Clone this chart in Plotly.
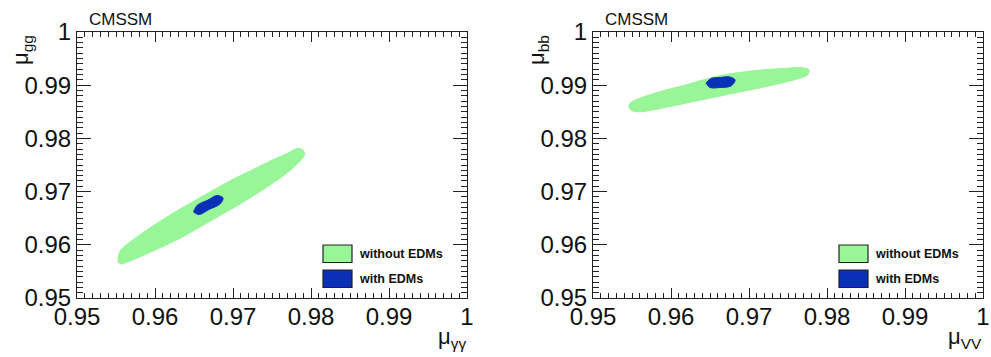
import plotly.graph_objects as go

W, H = 991, 357

# ---- data (contour outlines) ----
tick_vals = [0.95, 0.96, 0.97, 0.98, 0.99, 1.0]
tick_text = ["0.95", "0.96", "0.97", "0.98", "0.99", "1"]

left_green_x = [0.9553, 0.9556, 0.9565, 0.958, 0.960, 0.9625, 0.965, 0.9675, 0.970, 0.9725, 0.975, 0.977, 0.9782, 0.9789, 0.9792, 0.9787,
                0.977, 0.975, 0.9725, 0.970, 0.9675, 0.965, 0.9625, 0.960, 0.958, 0.9565, 0.9557, 0.9553]
left_green_y = [0.9578, 0.9590, 0.9602, 0.9618, 0.9638, 0.9661, 0.9682, 0.9703, 0.9723, 0.9741, 0.9759, 0.9772, 0.9781, 0.9779, 0.9770, 0.9759,
                0.9736, 0.9715, 0.9691, 0.9669, 0.9648, 0.9627, 0.9607, 0.9590, 0.9577, 0.9568, 0.9564, 0.9567]

left_blue_x = [0.96494, 0.96539, 0.96680, 0.96795, 0.96872, 0.96833, 0.96692, 0.96564, 0.96494]
left_blue_y = [0.96617, 0.96739, 0.96842, 0.96927, 0.96880, 0.96767, 0.96664, 0.96570, 0.96617]

right_green_x = [0.9546, 0.9550, 0.9577, 0.9620, 0.9663, 0.9705, 0.9748, 0.9768, 0.9777, 0.9775,
                 0.9765, 0.9727, 0.9684, 0.9641, 0.9599, 0.9560, 0.9549]
right_green_y = [0.9862, 0.9869, 0.9884, 0.9901, 0.9918, 0.9927, 0.9932, 0.9933, 0.9929, 0.9919,
                 0.9913, 0.9899, 0.9886, 0.9873, 0.9860, 0.9850, 0.9853]

right_blue_x = [0.96449, 0.96513, 0.96628, 0.96756, 0.96821, 0.96769, 0.96628, 0.96500, 0.96449]
right_blue_y = [0.99041, 0.99126, 0.99145, 0.99154, 0.99098, 0.98985, 0.98957, 0.98957, 0.99041]

legend_labels = ["without EDMs", "with EDMs"]
x_titles = ["μ<sub>γγ</sub>", "μ<sub>VV</sub>"]
y_titles = ["μ<sub>gg</sub>", "μ<sub>bb</sub>"]

GREEN = "#98f598"
BLUE = "#0a30b8"
FONT = "Liberation Sans, Arial, sans-serif"


def close(a):
    return list(a) + [a[0]]


fig = go.Figure()

panels = [
    (left_green_x, left_green_y, left_blue_x, left_blue_y, "x", "y"),
    (right_green_x, right_green_y, right_blue_x, right_blue_y, "x2", "y2"),
]
for gx, gy, bx, by, xa, ya in panels:
    fig.add_trace(go.Scatter(x=close(gx), y=close(gy), mode="lines", fill="toself",
                             fillcolor=GREEN, line=dict(color=GREEN, width=1, shape="spline", smoothing=0.8),
                             xaxis=xa, yaxis=ya, hoverinfo="skip", showlegend=False))
    fig.add_trace(go.Scatter(x=close(bx), y=close(by), mode="lines", fill="toself",
                             fillcolor=BLUE, line=dict(color=BLUE, width=1, shape="spline", smoothing=1.0),
                             xaxis=xa, yaxis=ya, hoverinfo="skip", showlegend=False))

# plot areas in pixels
px_left = [(77, 467), (593, 983)]
py_top, py_bot = 32, 298


def fx(px):
    return px / W


def fy(py):
    return 1 - py / H


common_x = dict(range=[0.95, 1.0], tickvals=tick_vals, ticktext=tick_text, ticks="inside",
                ticklen=10, tickwidth=1, tickcolor="#222", showline=True, linecolor="#222", linewidth=1,
                mirror="allticks", showgrid=False, zeroline=False, automargin=False,
                ticklabelstandoff=-3,
                tickfont=dict(family=FONT, size=24, color="#111"),
                minor=dict(dtick=0.001, ticks="inside", ticklen=5, tickcolor="#222", showgrid=False))
common_y = dict(range=[0.95, 1.0], tickvals=tick_vals, ticktext=tick_text, ticks="inside",
                ticklen=14, tickwidth=1, tickcolor="#222", showline=True, linecolor="#222", linewidth=1,
                mirror="allticks", showgrid=False, zeroline=False, automargin=False,
                tickfont=dict(family=FONT, size=24, color="#111"),
                minor=dict(dtick=0.001, ticks="inside", ticklen=6, tickcolor="#222", showgrid=False))

fig.update_layout(
    width=W, height=H, margin=dict(l=0, r=0, t=0, b=0, autoexpand=False),
    paper_bgcolor="white", plot_bgcolor="white",
    xaxis=dict(domain=[fx(77), fx(467)], anchor="y", **common_x),
    yaxis=dict(domain=[fy(py_bot), fy(py_top)], anchor="x", **common_y),
    xaxis2=dict(domain=[fx(593), fx(983)], anchor="y2", **common_x),
    yaxis2=dict(domain=[fy(py_bot), fy(py_top)], anchor="x2", **common_y),
)

shapes = []
annotations = []
for i, (x0, x1) in enumerate(px_left):
    # CMSSM label
    annotations.append(dict(text="CMSSM", x=fx(x0 + 10), y=fy(31), xref="paper", yref="paper",
                            xanchor="left", yanchor="bottom", showarrow=False,
                            font=dict(family=FONT, size=17, color="#111")))
    # x title (right aligned)
    annotations.append(dict(text=x_titles[i], x=fx(x1 + 1), y=fy(354), xref="paper", yref="paper",
                            xanchor="right", yanchor="bottom", showarrow=False,
                            font=dict(family=FONT, size=22, color="#111")))
    # y title (rotated, near top)
    annotations.append(dict(text=y_titles[i], x=fx(x0 - 77 + 6), y=fy(33), xref="paper", yref="paper",
                            xanchor="left", yanchor="top", textangle=-90, showarrow=False,
                            font=dict(family=FONT, size=22, color="#111")))
    # legend
    lx0 = x0 + 246
    for j, (col, lab) in enumerate(zip([GREEN, BLUE], legend_labels)):
        ytop = 245 + 25 * j
        shapes.append(dict(type="rect", xref="paper", yref="paper",
                           x0=fx(lx0), x1=fx(lx0 + 29), y0=fy(ytop + 17.5), y1=fy(ytop),
                           fillcolor=col, line=dict(color="#222", width=1.2)))
        annotations.append(dict(text="<b>" + lab + "</b>", x=fx(lx0 + 34), y=fy(ytop + 9),
                                xref="paper", yref="paper", xanchor="left", yanchor="middle",
                                showarrow=False, font=dict(family=FONT, size=12.5, color="#111")))

fig.update_layout(shapes=shapes, annotations=annotations)
fig.write_html("out.html")
